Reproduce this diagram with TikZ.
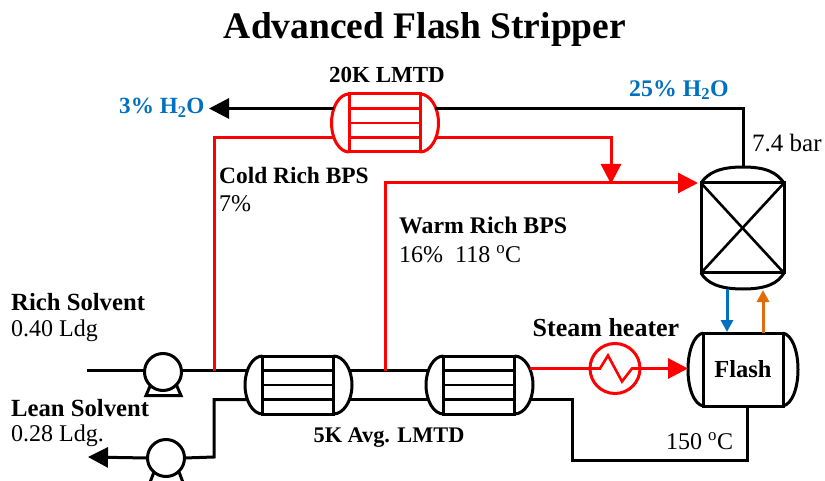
\documentclass[tikz,border=0pt]{standalone}
\usepackage{fontspec}
\setmainfont{Liberation Serif}
\usetikzlibrary{arrows.meta,calc}
\definecolor{bl}{HTML}{0070C0}
\definecolor{orng}{HTML}{E36C0A}
\tikzset{
 pipe/.style={line width=3pt,line join=miter},
 hot/.style={pipe,draw=red},
 cold/.style={pipe,draw=black},
 tipped/.style={-{Triangle[length=20pt,width=20pt]}},
 smalltip/.style={-{Triangle[length=12pt,width=12pt]}},
 lab/.style={inner sep=0pt,anchor=west,font=\fontsize{24}{26}\selectfont},
 blab/.style={lab,font=\fontsize{23.4}{26}\selectfont\bfseries},
 clab/.style={blab,anchor=center},
 hxbox/.style={draw,line width=3pt,inner sep=0pt,outer sep=0pt,minimum width=71pt,minimum height=58pt},
}
% name, x, y (centre), colour
\newcommand\shellhx[4]{
 \node[hxbox,draw=#4] (#1) at (#2,#3) {};
 \draw[pipe,draw=#4] (#1.north west) .. controls +(-9.6,0) and +(0,-16) .. +(-17.5,29)
   .. controls +(0,16) and +(-9.6,0) .. (#1.south west);
 \draw[pipe,draw=#4] (#1.north east) .. controls +(10,0) and +(0,-16) .. +(18.5,29)
   .. controls +(0,16) and +(10,0) .. (#1.south east);
 \draw[pipe,draw=#4,line width=2.6pt] ($(#1.west)+(0,-14.5)$) -- ($(#1.east)+(0,-14.5)$);
 \draw[pipe,draw=#4,line width=2.6pt] (#1.west) -- (#1.east);
 \draw[pipe,draw=#4,line width=2.6pt] ($(#1.west)+(0,14.5)$) -- ($(#1.east)+(0,14.5)$);
 \coordinate (#1-lt) at ($(#1.west)+(-15,-14.5)$);
 \coordinate (#1-lb) at ($(#1.west)+(-15,14.5)$);
 \coordinate (#1-rt) at ($(#1.east)+(15,-14.5)$);
 \coordinate (#1-rb) at ($(#1.east)+(15,14.5)$);
}
\begin{document}
\begin{tikzpicture}[x=1pt,y=-1pt]
\clip (0,0) rectangle (825,481);
\path[fill=white] (0,0) rectangle (825,481);
% equipment
\shellhx{hxa}{384.5}{123}{red}
\shellhx{hxb}{298}{385}{black}
\shellhx{hxc}{479}{385}{black}
% column
\node[draw,line width=3pt,inner sep=0pt,outer sep=0pt,minimum width=83pt,minimum height=90pt] (col) at (742.5,228) {};
\draw[pipe] (col.north west) .. controls +(7,-10) and +(-24,0) .. (743,167)
  .. controls +(24,0) and +(-7,-10) .. (col.north east);
\draw[pipe] (col.south west) .. controls +(6,10) and +(-24,0) .. (743,289)
  .. controls +(24,0) and +(-6,10) .. (col.south east);
\draw[pipe,line width=2.6pt] (col.north west) -- (col.south east);
\draw[pipe,line width=2.6pt] (col.north east) -- (col.south west);
% flash
\node[draw,line width=3pt,inner sep=0pt,outer sep=0pt,minimum width=80pt,minimum height=73pt,font=\fontsize{24.5}{26}\selectfont\bfseries] (flash) at (743,369.5) {Flash};
\draw[pipe] (flash.north west) .. controls +(-9,2) and +(0,-19) .. (688,369.5)
  .. controls +(0,19) and +(-9,-2) .. (flash.south west);
\draw[pipe] (flash.north east) .. controls +(9,2) and +(0,-19) .. (798,369.5)
  .. controls +(0,19) and +(9,-2) .. (flash.south east);
\coordinate (flashW) at (688,368.5);
% heater
\node[circle,draw=red,line width=3pt,minimum size=50pt,inner sep=0pt,outer sep=0pt] (heat) at (615,368.5) {};
\draw[hot,line width=2.6pt] (heat.west) -- +(10,0) -- +(18,-13) -- +(32,13) -- +(42,0) -- (heat.east);
% pumps
\draw[pipe] (151,384) -- (146,395.5) -- (181,395.5) -- (176,384);
\node[circle,draw,line width=3pt,minimum size=37pt,inner sep=0pt,outer sep=0pt,fill=white] (pa) at (163,372) {};
\draw[pipe] (154,472) -- (149,485) -- (184,485) -- (179,472);
\node[circle,draw,line width=3pt,minimum size=37pt,inner sep=0pt,outer sep=0pt,fill=white] (pb) at (166,458) {};
% free ends
\coordinate (richin) at (87,370.5);
\coordinate (lean) at (88,457);
\coordinate (h2oend) at (209,108.5);
\coordinate (pumpR) at (181.5,370.5);
\coordinate (pumpL) at (144.5,370.5);
\coordinate (teeA) at (214,370.5);
\coordinate (teeB) at (385,370.5);
\coordinate (colW) at (698,183);
\coordinate (coldTip) at (611,184);
% connectors
\draw[cold] (richin) -- (pumpL);
\draw[cold] (pumpR) -- (hxb-lt);
\draw[cold] (hxb-rt) -- (hxc-lt);
\draw[cold] (hxb-rb) -- (hxc-lb);
\draw[cold] (pb.east) -- (214,457) -- (214,399.5) -- (hxb-lb);
\draw[cold,tipped] (pb.west) -- (lean);
\draw[cold] (hxc-rb) -- (572,399.5) -- (572,460) -- (747,460) -- (747,406);
\draw[cold,tipped] (hxa-lt) -- (h2oend);
\draw[cold] (hxa-rt) -- (743,108.5) -- (743,167);
\draw[hot] (teeA) -- (214,137.5) -- (hxa-lb);
\draw[hot,tipped] (hxa-rb) -- (611,137.5) -- (coldTip);
\draw[hot,tipped] (teeB) -- (385,183) -- (colW);
\draw[hot] (hxc-rt |- heat.west) -- (heat.west);
\draw[hot,tipped] (heat.east) -- (flashW);
\draw[pipe,draw=bl,smalltip] (727,289) -- (727,332);
\draw[pipe,draw=orng,smalltip] (763,333) -- (763,290);
% text
\node[inner sep=0pt,font=\fontsize{37.5}{40}\selectfont\bfseries] (title) at (425,29) {Advanced Flash Stripper};
\node[clab,font=\fontsize{23}{26}\selectfont\bfseries] (t20) at (387,75) {20K LMTD};
\node[blab,font=\fontsize{23.2}{26}\selectfont\bfseries,text=bl] (t3) at (119,108) {3\% H\textsubscript{2}O};
\node[blab,font=\fontsize{23.8}{26}\selectfont\bfseries,text=bl] (t25) at (629,90) {25\% H\textsubscript{2}O};
\node[lab,font=\fontsize{25}{26}\selectfont] (t74) at (752,143) {7.4 bar};
\node[blab] (tc) at (219,175) {Cold Rich BPS};
\node[lab] (t7) at (219,204) {7\%};
\node[blab,font=\fontsize{23.8}{26}\selectfont\bfseries] (tw) at (399,225) {Warm Rich BPS};
\node[lab] (t16) at (399,254) {16\%\ \ 118 \textsuperscript{o}C};
\node[blab,font=\fontsize{24.7}{26}\selectfont\bfseries] (tr) at (11,302) {Rich Solvent};
\node[lab] (t40) at (11,331) {0.40 Ldg};
\node[blab,font=\fontsize{24.7}{26}\selectfont\bfseries] (tl) at (11,408) {Lean Solvent};
\node[lab] (t28) at (11,436) {0.28 Ldg.};
\node[clab,font=\fontsize{22.3}{26}\selectfont\bfseries] (t5k) at (389,438) {5K Avg. LMTD};
\node[clab,font=\fontsize{26}{26}\selectfont\bfseries] (tsh) at (606,328) {Steam heater};
\node[lab] (t150) at (666,441) {150 \textsuperscript{o}C};
\end{tikzpicture}
\end{document}
